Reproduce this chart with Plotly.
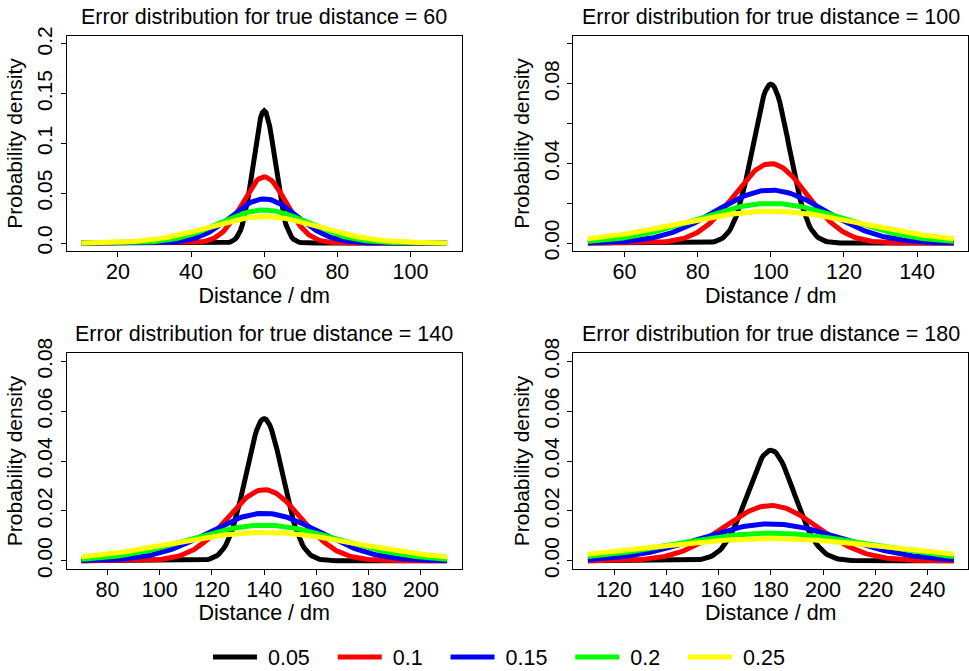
import numpy as np
import plotly.graph_objects as go

# ---- data ----
true_distances = [60, 100, 140, 180]
error_levels = [0.05, 0.1, 0.15, 0.2, 0.25]
level_labels = ["0.05", "0.1", "0.15", "0.2", "0.25"]
x_from = [10, 50, 70, 110]
x_to = [110, 150, 210, 250]
y_top = [0.2, 0.1, 0.08, 0.08]
y_tick_values = [
    [0.0, 0.05, 0.1, 0.15, 0.2],
    [0.0, 0.02, 0.04, 0.06, 0.08, 0.10],
    [0.0, 0.02, 0.04, 0.06, 0.08],
    [0.0, 0.02, 0.04, 0.06, 0.08],
]
y_tick_labels = [
    ["0.0", "0.05", "0.1", "0.15", "0.2"],
    ["0.00", "", "0.04", "", "0.08", ""],
    ["0.00", "0.02", "0.04", "0.06", "0.08"],
    ["0.00", "0.02", "0.04", "0.06", "0.08"],
]
x_tick_step = 20

# ---- style ----
colors = ["#000000", "#FF0000", "#0000FF", "#00FF00", "#FFFF00"]
FONT = "Liberation Sans, Arial, sans-serif"
FS_H = 21.5   # horizontal text
FS_V = 21     # rotated text
W, H = 969, 671
# panel boxes in pixels (left, right, top, bottom)
boxes = [
    (66.7, 461.7, 36.0, 251.0),
    (573.3, 968.3, 36.0, 251.0),
    (66.7, 461.7, 353.3, 568.7),
    (573.3, 968.3, 353.3, 568.7),
]
NB = "\u00a0"


def normal_pdf(x, mu, sd):
    return np.exp(-0.5 * ((x - mu) / sd) ** 2) / (sd * np.sqrt(2 * np.pi))


fig = go.Figure()
annotations = []
for p, mu in enumerate(true_distances):
    ax = "" if p == 0 else str(p + 1)
    x = np.linspace(x_from[p], x_to[p], 201)
    for k, lev in enumerate(error_levels):
        fig.add_trace(go.Scatter(
            x=x, y=normal_pdf(x, mu, lev * mu), mode="lines",
            line=dict(color=colors[k], width=5),
            name=NB + level_labels[k] + NB * 3, legendgroup=level_labels[k],
            showlegend=(p == 0), xaxis="x" + ax, yaxis="y" + ax,
            hoverinfo="skip",
        ))
    l, r, t, b = boxes[p]
    xpad = 0.04 * (x_to[p] - x_from[p])
    ypad = 0.04 * y_top[p]
    common = dict(showline=True, mirror=True, linecolor="#000000", linewidth=1,
                  ticks="outside", ticklen=5, tickcolor="#000000", tickwidth=1,
                  showgrid=False, zeroline=False)
    fig.layout["xaxis" + ax] = dict(
        domain=[l / W, r / W], anchor="y" + ax,
        range=[x_from[p] - xpad, x_to[p] + xpad],
        tick0=0, dtick=x_tick_step, ticklabelstandoff=-4,
        tickfont=dict(family=FONT, size=FS_H, color="#000000"),
        title=dict(text="Distance / dm", standoff=0,
                   font=dict(family=FONT, size=FS_H, color="#000000")),
        **common)
    fig.layout["yaxis" + ax] = dict(
        domain=[1 - b / H, 1 - t / H], anchor="x" + ax,
        range=[-ypad, y_top[p] + ypad],
        tickmode="array", tickvals=y_tick_values[p], ticktext=y_tick_labels[p],
        tickangle=-90,
        tickfont=dict(family=FONT, size=FS_V, color="#000000"),
        title=dict(text="Probability density", standoff=4,
                   font=dict(family=FONT, size=FS_V, color="#000000")),
        **common)
    annotations.append(dict(
        text=f"Error distribution for true distance = {mu}",
        xref="paper", yref="paper", x=(l + r) / 2 / W, y=1 - (t - 19) / H,
        xanchor="center", yanchor="middle", showarrow=False,
        font=dict(family=FONT, size=FS_H, color="#000000")))

fig.update_layout(
    width=W, height=H,
    margin=dict(l=0, r=0, t=0, b=0, pad=0, autoexpand=False),
    paper_bgcolor="#FFFFFF", plot_bgcolor="#FFFFFF",
    annotations=annotations,
    legend=dict(orientation="h", x=208 / W, xanchor="left", y=1 - 657 / H,
                yanchor="middle", itemwidth=44,
                font=dict(family=FONT, size=FS_H, color="#000000"),
                bgcolor="rgba(0,0,0,0)"),
    font=dict(family=FONT, color="#000000"),
)
fig.write_html("out.html")
